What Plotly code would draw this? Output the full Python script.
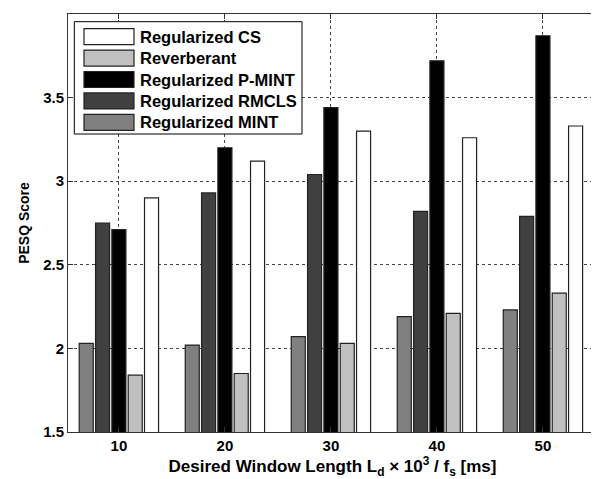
import plotly.graph_objects as go

window_ms = [10, 20, 30, 40, 50]
series_names = ["Regularized MINT", "Regularized RMCLS", "Regularized P-MINT", "Reverberant", "Regularized CS"]
mint = [2.03, 2.02, 2.07, 2.19, 2.23]
rmcls = [2.75, 2.93, 3.04, 2.82, 2.79]
pmint = [2.71, 3.20, 3.44, 3.72, 3.87]
reverb = [1.84, 1.85, 2.03, 2.21, 2.33]
cs = [2.90, 3.12, 3.30, 3.26, 3.33]
colors = ["#808080", "#404040", "#000000", "#c0c0c0", "#ffffff"]
y_ticks = [1.5, 2, 2.5, 3, 3.5, 4]

font_family = "Liberation Sans, Arial, sans-serif"
edge = "#222222"

fig = go.Figure()
for name, vals, col in zip(series_names, [mint, rmcls, pmint, reverb, cs], colors):
    fig.add_trace(go.Bar(
        x=window_ms, y=vals, name=name, base=0,
        marker=dict(color=col, line=dict(color=edge, width=1.2)),
        showlegend=False,
    ))

# Manual legend (wide swatches like the reference), listed in reverse trace order
plot_w, plot_h = 529.0, 418.0
def px_x(p):
    return p / plot_w
def px_y(p):
    return 1 - p / plot_h

shapes = [dict(type="rect", xref="paper", yref="paper",
               x0=px_x(6.3), x1=px_x(234), y0=px_y(7.7), y1=px_y(120),
               fillcolor="white", line=dict(color="black", width=1), layer="above")]
annotations = []
row0, pitch, sw_h = 22.7, 21.4, 16
for i, (name, col) in enumerate(zip(series_names[::-1], colors[::-1])):
    cy = row0 + pitch * i
    shapes.append(dict(type="rect", xref="paper", yref="paper",
                       x0=px_x(16), x1=px_x(66), y0=px_y(cy - sw_h / 2), y1=px_y(cy + sw_h / 2),
                       fillcolor=col, line=dict(color=edge, width=1.2), layer="above"))
    annotations.append(dict(xref="paper", yref="paper", x=px_x(70), y=px_y(cy),
                            xanchor="left", yanchor="middle", showarrow=False, text=name,
                            font=dict(family=font_family, size=16.5, color="black", weight="bold")))

fig.update_layout(
    width=591, height=471,
    margin=dict(l=60, r=2, t=6, b=47),
    paper_bgcolor="white", plot_bgcolor="white",
    barmode="group", bargap=0.23, bargroupgap=0.14,
    font=dict(family=font_family, size=14, color="black"),
    showlegend=False,
    shapes=shapes, annotations=annotations,
    xaxis=dict(
        range=[5.2, 55.1], tickvals=window_ms, ticktext=[str(v) for v in window_ms],
        showline=True, linecolor="#333333", linewidth=1, mirror="ticks",
        ticks="inside", ticklen=5, tickcolor="#333333",
        showgrid=True, gridcolor="#444444", griddash="dot", gridwidth=1,
        tickfont=dict(size=15, weight="bold"), automargin=False,
        title=dict(text="Desired Window Length L<sub>d</sub> × 10<sup>3</sup> / f<sub>s</sub> [ms]",
                   font=dict(size=17, weight="bold"), standoff=2),
        zeroline=False,
    ),
    yaxis=dict(
        range=[1.5, 4], tickvals=y_ticks, ticktext=["1.5", "2", "2.5", "3", "3.5", "4"],
        showline=True, linecolor="#333333", linewidth=1, mirror="ticks",
        ticks="inside", ticklen=5, tickcolor="#333333",
        showgrid=True, gridcolor="#444444", griddash="dot", gridwidth=1,
        tickfont=dict(size=15, weight="bold"), automargin=False,
        title=dict(text="PESQ Score", font=dict(size=14, weight="bold"), standoff=10),
        zeroline=False,
    ),
)
fig.write_html("out.html")
